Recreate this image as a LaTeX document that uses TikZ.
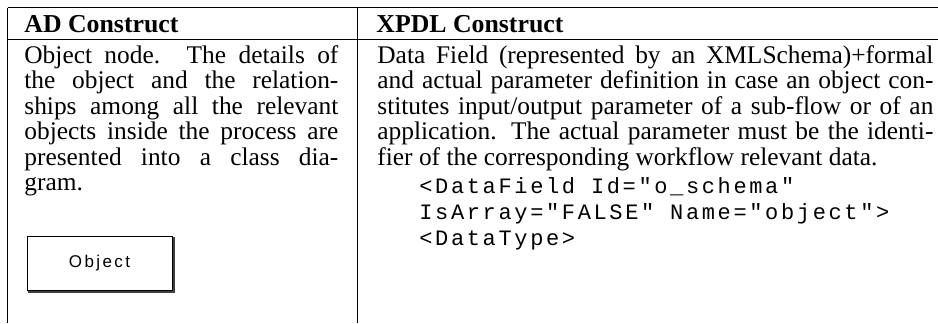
\documentclass[tikz,border=0pt]{standalone}
\usepackage{fontspec}
\setmainfont{Liberation Serif}
\newfontfamily\codefont[LetterSpace=12]{Liberation Mono}
\newfontfamily\boxfont[LetterSpace=14]{Liberation Sans}
\newcommand\adline[1]{\makebox[157pt][s]{#1}}
\newcommand\xpdlline[1]{\makebox[278pt][s]{#1}}
\begin{document}
\begin{tikzpicture}[x=0.5pt,y=-0.5pt,
  rule/.style={line width=0.5pt},
  cell/.style={inner sep=0pt, anchor=base west},
  txt/.style={cell, font=\fontsize{12.7}{15}\selectfont},
  head/.style={cell, font=\fontsize{12.9}{15}\selectfont\bfseries},
  code/.style={cell, font=\codefont\fontsize{11}{12}\selectfont},
  objbox/.style={draw, line width=0.5pt, inner sep=0pt, minimum width=72.5pt,
    minimum height=27pt, font=\boxfont\fontsize{8.5}{8.5}\selectfont},
  objshadow/.style={draw=black!75, line width=0.8pt}]
\useasboundingbox (0,0) rectangle (938,323);
% table rules
\draw[rule] (7.5,7.5) -- (938,7.5);
\draw[rule] (7.5,39.5) -- (938,39.5);
\draw[rule] (7.5,7.5) -- (7.5,323);
\draw[rule] (357,7.5) -- (357,323);
% header row
\node[head] (hAD) at (24,32.5) {AD Construct};
\node[head] (hXPDL) at (376,32.5) {XPDL Construct};
% left column
\node[txt] (l1) at (24,63.5)  {\adline{Object node.  The details of}};
\node[txt] (l2) at (24,88.9)  {\adline{the object and the relation-}};
\node[txt] (l3) at (24,114.3) {\adline{ships among all the relevant}};
\node[txt] (l4) at (24,139.7) {\adline{objects inside the process are}};
\node[txt] (l5) at (24,165.1) {\adline{presented into a class dia-}};
\node[txt] (l6) at (24,190.5) {gram.};
% object symbol
\node[objbox] (obj) at (99.5,263) {Object};
\draw[objshadow] ([xshift=0.6pt,yshift=-0.6pt]obj.north east)
  -- ([xshift=0.6pt,yshift=-0.6pt]obj.south east)
  -- ([xshift=0.6pt,yshift=-0.6pt]obj.south west);
% right column
\node[txt] (r1) at (377,63.5)  {\xpdlline{Data Field (represented by an XMLSchema)+formal}};
\node[txt] (r2) at (377,88.9)  {\xpdlline{and actual parameter definition in case an object con-}};
\node[txt] (r3) at (377,114.3) {\xpdlline{stitutes input/output parameter of a sub-flow or of an}};
\node[txt] (r4) at (377,139.7) {\xpdlline{application.  The actual parameter must be the identi-}};
\node[txt] (r5) at (377,165.1) {fier of the corresponding workflow relevant data.};
\node[code] (code1) at (419,193) {<DataField Id="o\_schema"};
\node[code] (code2) at (419,219) {IsArray="FALSE" Name="object">};
\node[code] (code3) at (419,245) {<DataType>};
\end{tikzpicture}
\end{document}
